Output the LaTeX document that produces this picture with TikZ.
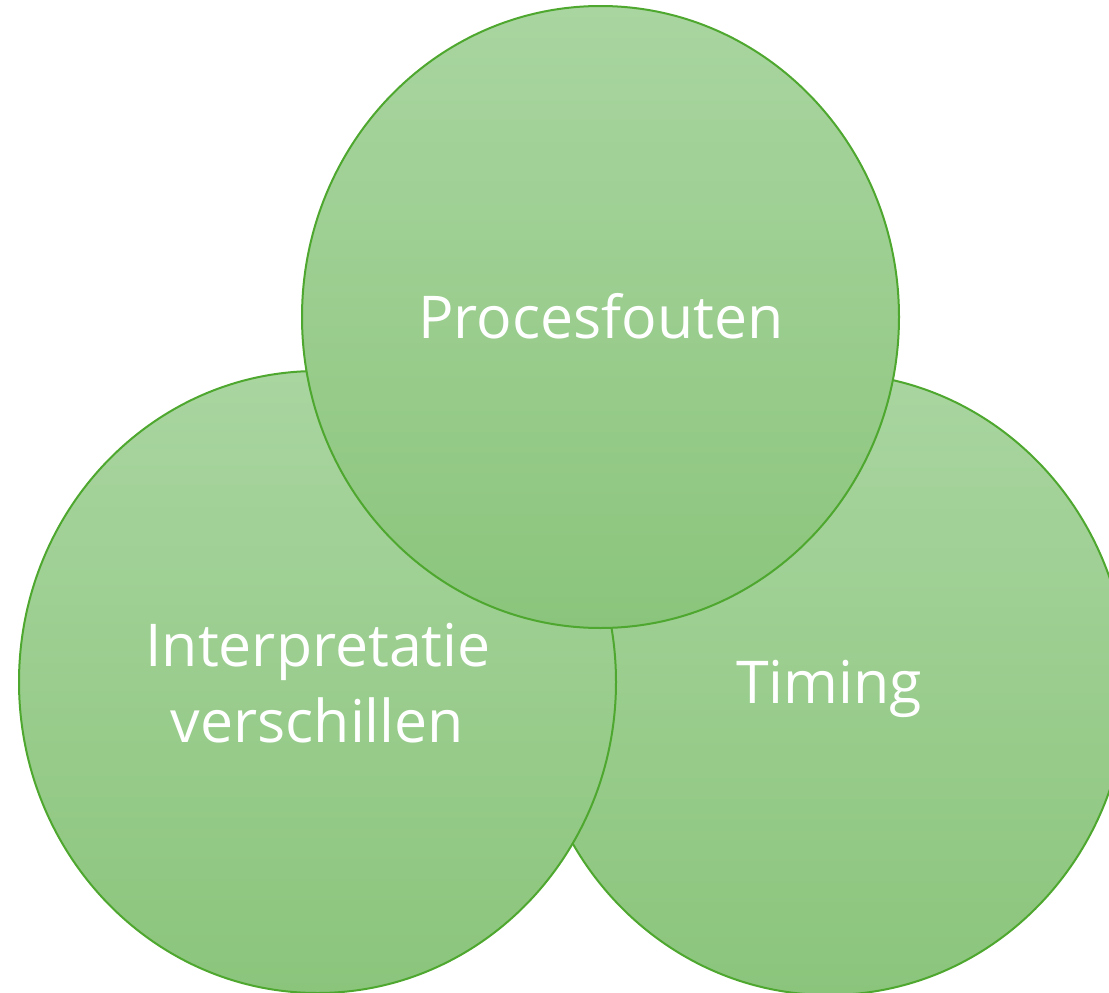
\documentclass[tikz,border=0pt]{standalone}
\usepackage{fontspec}
\setmainfont{Open Sans}
\usetikzlibrary{shapes.geometric}
\definecolor{gtop}{HTML}{A9D5A0}
\definecolor{gbot}{HTML}{8BC57C}
\definecolor{gline}{HTML}{4EA72E}
\tikzset{
  blob/.style={ellipse, minimum width=597pt, minimum height=622pt, inner sep=0pt,
    top color=gtop, bottom color=gbot, draw=gline, line width=2pt},
  lbl/.style={text=white, anchor=base, inner sep=0pt, font=\fontsize{59}{70}\selectfont}
}
\begin{document}
\begin{tikzpicture}[x=1pt,y=-1pt]
\useasboundingbox (0,0) rectangle (1109,993);
\clip (0,0) rectangle (1109,993);
\node[blob] (timingc) at (829,684) {};
\node[blob] (interc) at (317.5,682) {};
\node[blob] (procc) at (600.5,317) {};
\node[lbl] (proc) at (601,338) {Procesfouten};
\node[lbl] (inter1) at (318,666) {Interpretatie};
\node[lbl] (inter2) at (317.5,742) {verschillen};
\node[lbl] (timing) at (829,703) {Timing};
\end{tikzpicture}
\end{document}
